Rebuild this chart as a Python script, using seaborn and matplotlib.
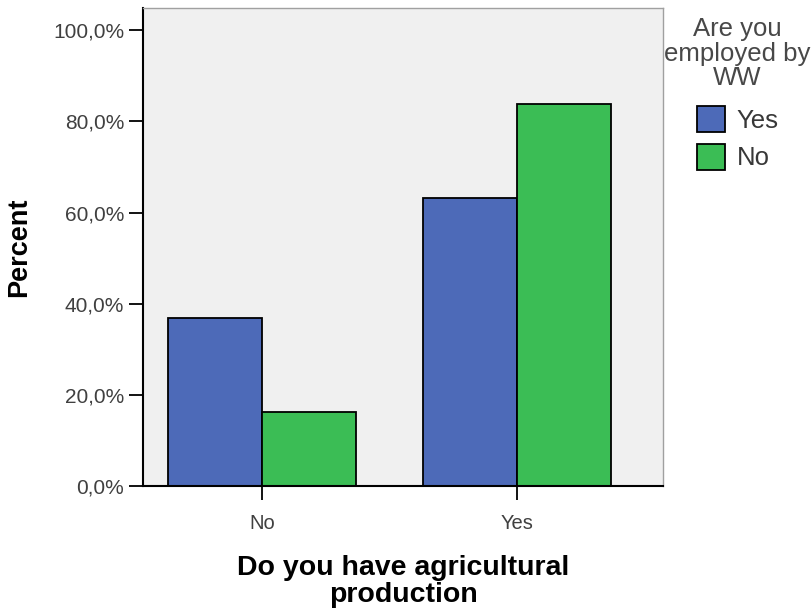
import matplotlib
matplotlib.use("Agg")
import matplotlib.pyplot as plt
import matplotlib.patches as mpatches
from matplotlib.ticker import FuncFormatter, FixedLocator
import seaborn as sns
import pandas as pd

agri_categories = ["No", "Yes"]
employed_levels = ["Yes", "No"]
pct_employed_yes = [36.9, 63.1]
pct_employed_no = [16.2, 83.8]
y_ticks = [0, 20, 40, 60, 80, 100]
legend_title = "Are you\nemployed by\nWW"

colors = {"Yes": "#4d6ab8", "No": "#3bbd55"}

rows = []
for i, c in enumerate(agri_categories):
    rows.append({"agri": c, "emp": "Yes", "pct": pct_employed_yes[i]})
    rows.append({"agri": c, "emp": "No", "pct": pct_employed_no[i]})
df = pd.DataFrame(rows)

sns.set_theme(style="white")
plt.rcParams["font.family"] = ["Liberation Sans", "DejaVu Sans"]

fig = plt.figure(figsize=(8.11, 6.10), dpi=100)
ax = fig.add_axes([143/811, 1-486/610, (663-143)/811, (486-8)/610])
ax.set_facecolor("#f0f0f0")

sns.barplot(data=df, x="agri", y="pct", hue="emp", order=agri_categories,
            hue_order=employed_levels, palette=colors, width=0.737,
            edgecolor="black", linewidth=1.3, saturation=1, ax=ax, legend=False)

ax.set_xlim(-0.467, 1.573)
ax.set_ylim(0, 104.9)
ax.yaxis.set_major_locator(FixedLocator(y_ticks))
ax.yaxis.set_major_formatter(FuncFormatter(lambda v, p: f"{v:.1f}".replace(".", ",") + "%"))

for s in ["left", "bottom"]:
    ax.spines[s].set_color("black")
    ax.spines[s].set_linewidth(1.5)
for s in ["top", "right"]:
    ax.spines[s].set_color("#a0a0a0")
    ax.spines[s].set_linewidth(1.0)

ax.tick_params(axis="both", which="major", direction="out", length=10, width=1.3,
               color="black", labelsize=15, labelcolor="#404040", left=True, bottom=True)
ax.tick_params(axis="x", pad=10, labelsize=14.5)
ax.tick_params(axis="y", pad=3.5)

ax.set_ylabel("Percent", fontsize=19.5, fontweight="bold", color="black", labelpad=15)
ax.set_xlabel("Do you have agricultural\nproduction", fontsize=20.5, fontweight="bold",
              color="black", labelpad=16, linespacing=1.05)

fig.text(737/811, 1-17/610, legend_title, ha="center", va="top", fontsize=18.5,
         color="#484848", linespacing=1.03, multialignment="center")

handles = [mpatches.Patch(facecolor=colors[k], edgecolor="black", linewidth=1.3) for k in employed_levels]
leg = fig.legend(handles, employed_levels,
                 loc="upper left", bbox_to_anchor=(697/811, 1-106/610),
                 bbox_transform=fig.transFigure, frameon=False,
                 fontsize=18.5, handlelength=1.1, handleheight=1.2,
                 handletextpad=0.45, labelspacing=0.42, borderpad=0, borderaxespad=0)
for t in leg.get_texts():
    t.set_color("#383838")

fig.savefig("out.png", dpi=100)
